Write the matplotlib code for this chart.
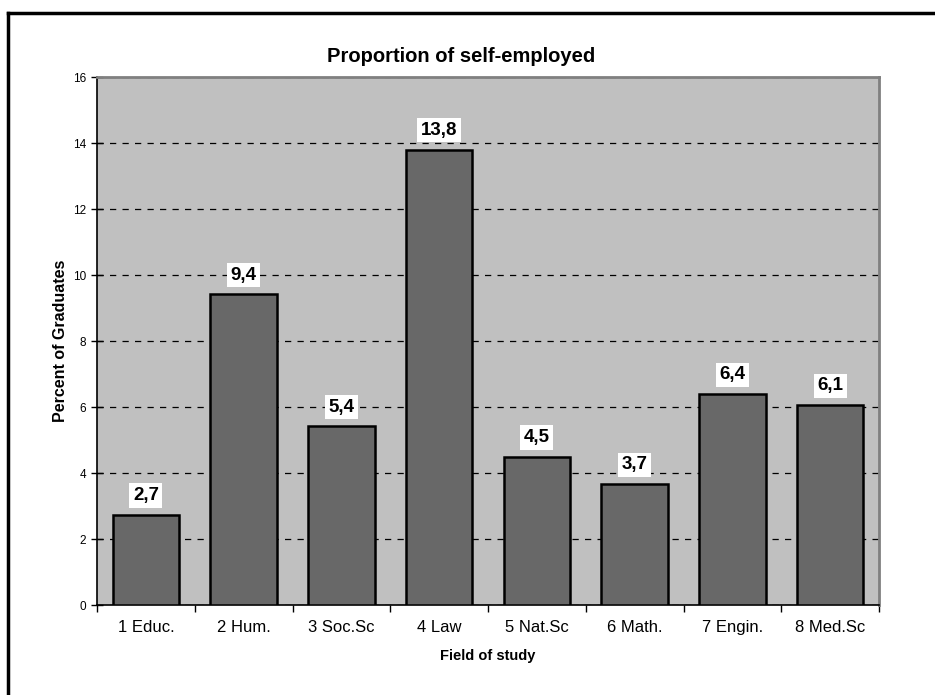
import numpy as np
import matplotlib.pyplot as plt

plt.rcParams['font.family'] = ['Liberation Sans', 'DejaVu Sans']

# data
fields = ["1 Educ.", "2 Hum.", "3 Soc.Sc", "4 Law", "5 Nat.Sc", "6 Math.", "7 Engin.", "8 Med.Sc"]
share = [2.73, 9.41, 5.41, 13.8, 4.49, 3.66, 6.39, 6.06]
yticks = [0, 2, 4, 6, 8, 10, 12, 14, 16]

fig = plt.figure(figsize=(9.35, 6.95), dpi=100)
ax = fig.add_axes([97/935, 1 - 605/695, (879 - 97)/935, (605 - 77)/695])
ax.set_facecolor('#c0c0c0')

x = np.arange(len(fields))
bars = ax.bar(x, share, width=0.68, color='#686868', edgecolor='black', linewidth=1.8, zorder=3)

for b, v in zip(bars, share):
    ax.text(b.get_x() + b.get_width()/2, v + 0.33, f"{v:.1f}".replace('.', ','),
            ha='center', va='bottom', fontsize=13.5, fontweight='bold', zorder=4,
            bbox=dict(facecolor='white', edgecolor='none', pad=2.5))

ax.set_xlim(-0.5, len(fields) - 0.5)
ax.set_ylim(0, 16)
ax.set_yticks(yticks)
ax.set_yticklabels([str(t) for t in yticks], fontsize=8.5)
ax.set_xticks(x)
ax.set_xticklabels(fields, fontsize=12)
ax.tick_params(axis='x', length=0, pad=11)
ax.set_xticks(np.arange(-0.5, len(fields)), minor=True)
ax.tick_params(axis='x', which='minor', length=5, width=1)
ax.tick_params(axis='y', length=8, width=1, pad=4, direction='inout')

ax.yaxis.grid(True, linestyle=(0, (5, 5)), color='black', linewidth=0.9, zorder=1)
ax.set_axisbelow(True)

ax.spines['top'].set_color('#808080')
ax.spines['right'].set_color('#808080')
ax.spines['top'].set_linewidth(2)
ax.spines['right'].set_linewidth(2)
ax.spines['left'].set_linewidth(1.2)
ax.spines['bottom'].set_linewidth(1.2)

fig.text(461/935, 1 - 57/695, 'Proportion of self-employed', fontsize=14.5, fontweight='bold',
         ha='center', va='center')
ax.set_ylabel('Percent of Graduates', fontsize=11.5, fontweight='bold', labelpad=3)
ax.set_xlabel('Field of study', fontsize=10.5, fontweight='bold', labelpad=10)

# outer frame (only top and left visible)
fig.add_artist(plt.Line2D([8/935, 1], [1 - 13/695, 1 - 13/695], color='black', linewidth=2.5))
fig.add_artist(plt.Line2D([8/935, 8/935], [0, 1 - 13/695], color='black', linewidth=2.5))

fig.savefig('out.png', dpi=100)
